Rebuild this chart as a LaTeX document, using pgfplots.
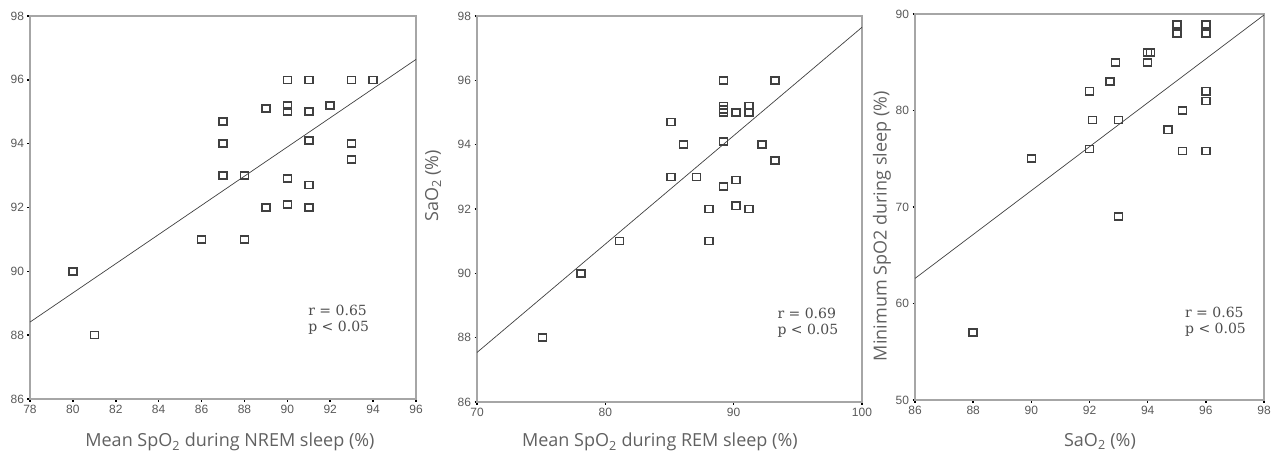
\documentclass[border=0pt]{standalone}
\usepackage{fontspec}
\usepackage{pgfplots}
\pgfplotsset{compat=1.18}
\newfontfamily\labfont{Open Sans}
\newfontfamily\tickfont{Liberation Sans}
\newfontfamily\statfont{DejaVu Serif}

\pgfplotstableread{
x y
80 90
81 88
86 91
87 94.7
87 94
87 93
88 93
88 91
89 95.1
89 92
90 96
90 95.2
90 95
90 92.9
90 92.1
91 96
91 95
91 94.1
91 92.7
91 92
92 95.2
93 96
94 96
93 94
93 93.5
}\nremdata

\pgfplotstableread{
x y
75.1 88
78.1 90
81.1 91
85.1 94.7
86.1 94
85.1 93
87.1 93
89.2 96
89.2 95.2
89.2 95.1
89.2 95
90.2 95
91.2 95.2
91.2 95
89.2 94.1
92.2 94
93.2 96
93.2 93.5
90.2 92.9
89.2 92.7
90.2 92.1
88.1 92
91.2 92
88.1 91
}\remdata

\pgfplotstableread{
x y
88 57
90 75
92 76
92 82
92.1 79
92.7 83
92.9 85
93 79
93 69
94 86
94.1 86
94 85
94.7 78
95 88.9
95 88
95.2 80
95.2 75.8
96 88.9
96 88
96 82
96 81
96 75.8
}\minspo

\pgfplotsset{
  panel/.style={
    scale only axis, anchor=south west,
    axis line style={gray!70, line width=1.1pt},
    tick pos=left, tick align=outside,
    major tick length=2.5pt,
    tick style={black, line width=1.6pt},
    tick label style={font=\tickfont\fontsize{12}{14}\selectfont, text=black!65},
    /pgf/number format/assume math mode=true,
    label style={font=\labfont\fontsize{18}{21}\selectfont, text=black!62},
    xlabel style={anchor=north, inner sep=0pt, yshift=-34pt},
    ylabel style={anchor=center},
    clip=false,
  },
  dots/.style={only marks, mark=square, mark size=4pt,
    mark options={draw=black!75, line width=1.6pt, fill=none, yscale=0.88, rounded corners=1.5pt}},
  fitline/.style={black!75, line width=0.7pt, mark=none},
}
\tikzset{
  stat/.style={anchor=north west, inner sep=0pt, align=left,
    font=\statfont\fontsize{14}{16}\selectfont, text=black!70},
}

\begin{document}
\begin{tikzpicture}
\useasboundingbox (0pt,0pt) rectangle (1272pt,451pt);
\clip (0pt,0pt) rectangle (1272pt,451pt);

% NREM sleep vs SaO2
\begin{axis}[panel, at={(30pt,52pt)}, width=386pt, height=383pt,
  xmin=78, xmax=96, ymin=86, ymax=98,
  xtick={78,80,...,96}, ytick={86,88,...,98},
  xlabel={Mean SpO\textsubscript{2} during NREM sleep (\%)},
  xlabel style={at={(axis description cs:0.518,0)}},
]
\addplot[dots] table[x=x,y=y] {\nremdata};
\addplot[fitline] coordinates {(78,88.41) (96,96.64)};
\node[stat] at (axis cs:90.97,88.94) {r = 0.65\\p < 0.05};
\end{axis}

% REM sleep vs SaO2
\begin{axis}[panel, at={(477pt,49pt)}, width=385pt, height=386pt,
  xmin=70, xmax=100, ymin=86, ymax=98,
  xtick={70,80,90,100}, ytick={86,88,...,98},
  xlabel={Mean SpO\textsubscript{2} during REM sleep (\%)},
  xlabel style={at={(axis description cs:0.475,0)}, yshift=3pt},
  ylabel={SaO\textsubscript{2} (\%)},
  ylabel style={at={(axis description cs:-0.114,0.56)}},
]
\addplot[dots] table[x=x,y=y] {\remdata};
\addplot[fitline] coordinates {(70,87.54) (100,97.65)};
\node[stat] at (axis cs:93.4,88.93) {r = 0.69\\p < 0.05};
\end{axis}

% SaO2 vs minimum SpO2
\begin{axis}[panel, at={(915pt,51pt)}, width=349pt, height=386pt,
  xmin=86, xmax=98, ymin=50, ymax=90,
  xtick={86,88,...,98}, ytick={50,60,...,90},
  xlabel={SaO\textsubscript{2} (\%)},
  xlabel style={at={(axis description cs:0.53,0)}, yshift=1pt},
  ylabel={Minimum SpO2 during sleep (\%)},
  ylabel style={at={(axis description cs:-0.095,0.45)}},
]
\addplot[dots] table[x=x,y=y] {\minspo};
\addplot[fitline] coordinates {(86,62.6) (98,89.9)};
\node[stat] at (axis cs:95.28,59.6) {r = 0.65\\p < 0.05};
\end{axis}
\end{tikzpicture}
\end{document}
